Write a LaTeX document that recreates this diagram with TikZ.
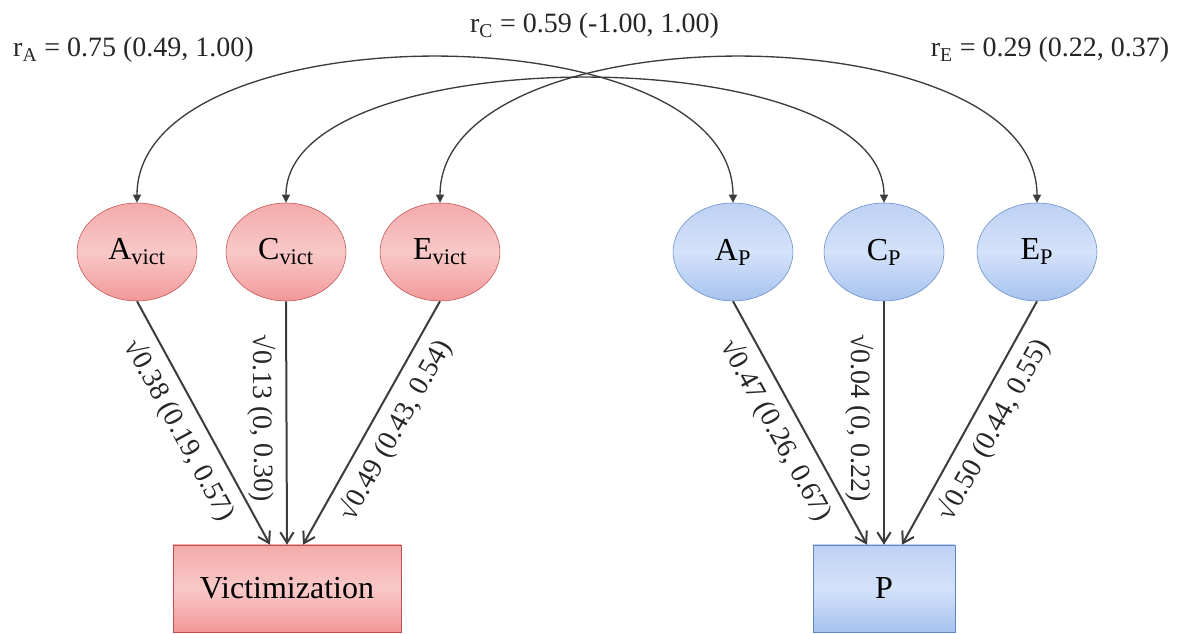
\documentclass[tikz,border=0pt]{standalone}
\usepackage{fontspec}
\setmainfont{Liberation Serif}
\usepackage{tikz}
\usetikzlibrary{shapes.geometric,arrows.meta,positioning,calc}
\definecolor{vicTop}{RGB}{244,170,170}
\definecolor{vicMid}{RGB}{249,200,200}
\definecolor{vicBot}{RGB}{242,152,152}
\definecolor{vicLine}{RGB}{188,80,80}
\definecolor{pTop}{RGB}{190,209,243}
\definecolor{pMid}{RGB}{212,226,250}
\definecolor{pBot}{RGB}{166,194,238}
\definecolor{pLine}{RGB}{96,136,198}
\definecolor{arrowGray}{RGB}{60,60,60}

\begin{document}
\begin{tikzpicture}[x=0.75pt,y=0.75pt,
    latent/.style={ellipse,minimum width=90pt,minimum height=73.5pt,inner sep=0pt,
                   font=\fontsize{24}{28}\selectfont},
    observed/.style={rectangle,minimum height=65.25pt,inner sep=0pt,
                   font=\fontsize{24}{28}\selectfont},
    vicfill/.style={draw=vicLine,top color=vicTop,bottom color=vicBot,middle color=vicMid},
    pfill/.style={draw=pLine,top color=pTop,bottom color=pBot,middle color=pMid},
    path/.style={draw=arrowGray,line width=1.5pt,-{Straight Barb[length=8pt,width=10pt]}},
    corr/.style={draw=arrowGray,line width=1pt,
                 {Triangle[length=6pt,width=6pt]}-{Triangle[length=6pt,width=6pt]}},
    est/.style={sloped,below=5pt,pos=0.48,inner sep=2pt,text=black!85,
                font=\fontsize{21}{25}\selectfont},
    rlab/.style={anchor=base,inner sep=0pt,text=black!85,font=\fontsize{21}{25}\selectfont}
  ]
  \useasboundingbox (0,0) rectangle (1181,634);

  % victimization side
  \node[latent,vicfill] (Av) at (137,382) {A\textsubscript{vict}};
  \node[latent,vicfill] (Cv) at (286,382) {C\textsubscript{vict}};
  \node[latent,vicfill] (Ev) at (440,382) {E\textsubscript{vict}};
  \node[observed,vicfill,minimum width=171pt] (V) at (287,45.5) {Victimization};

  % P side
  \node[latent,pfill] (Ap) at (733,382) {A\textsubscript{P}};
  \node[latent,pfill] (Cp) at (884,382) {C\textsubscript{P}};
  \node[latent,pfill] (Ep) at (1037,382) {E\textsubscript{P}};
  \node[observed,pfill,minimum width=106.5pt] (P) at (884,45.5) {P};

  % paths
  \draw[path] (Av.south) -- ($(V.north)+(-17,0)$) node[est] {√0.38 (0.19, 0.57)};
  \draw[path] (Cv.south) -- (V.north) node[est] {√0.13 (0, 0.30)};
  \draw[path] (Ev.south) -- ($(V.north)+(16,0)$) node[est] {√0.49 (0.43, 0.54)};
  \draw[path] (Ap.south) -- ($(P.north)+(-17,0)$) node[est] {√0.47 (0.26, 0.67)};
  \draw[path] (Cp.south) -- (P.north) node[est] {√0.04 (0, 0.22)};
  \draw[path] (Ep.south) -- ($(P.north)+(18,0)$) node[est] {√0.50 (0.44, 0.55)};

  % correlations
  \draw[corr] (Av.north) .. controls +(0,193) and +(0,193) .. (Ap.north);
  \draw[corr] (Cv.north) .. controls +(0,165) and +(0,165) .. (Cp.north);
  \draw[corr] (Ev.north) .. controls +(0,193) and +(0,193) .. (Ep.north);

  \node[rlab] (rA) at (133.5,577) {r\textsubscript{A} = 0.75 (0.49, 1.00)};
  \node[rlab] (rC) at (594.5,601) {r\textsubscript{C} = 0.59 (-1.00, 1.00)};
  \node[rlab] (rE) at (1050,577) {r\textsubscript{E} = 0.29 (0.22, 0.37)};
\end{tikzpicture}
\end{document}
